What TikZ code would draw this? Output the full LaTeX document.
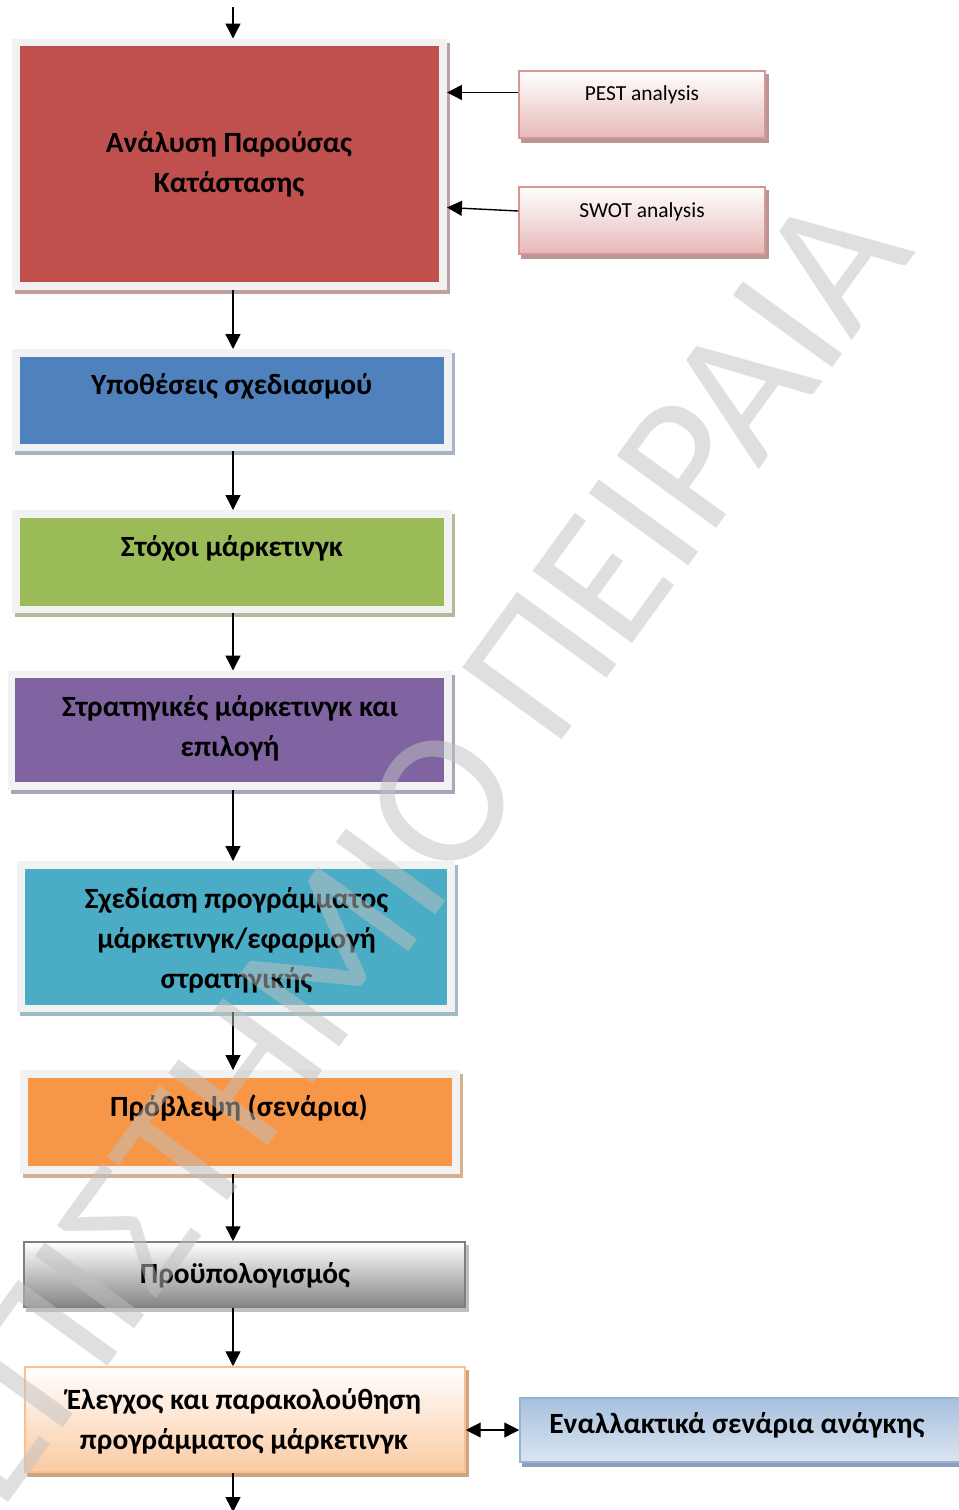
\documentclass[tikz,border=0pt]{standalone}
\usepackage{fontspec}
\setmainfont{Carlito}
\usetikzlibrary{arrows.meta,calc}

\definecolor{framegray}{HTML}{F2F2F2}
\definecolor{redfill}{HTML}{C0504D}
\definecolor{redsh}{HTML}{BEA0A0}
\definecolor{bluefill}{HTML}{4F81BD}
\definecolor{bluesh}{HTML}{A7B4C6}
\definecolor{greenfill}{HTML}{9BBB59}
\definecolor{greensh}{HTML}{B0BC9C}
\definecolor{purplefill}{HTML}{8064A2}
\definecolor{purplesh}{HTML}{ADA4BC}
\definecolor{tealfill}{HTML}{4BACC6}
\definecolor{tealsh}{HTML}{9EBCC4}
\definecolor{orangefill}{HTML}{F79646}
\definecolor{orangesh}{HTML}{D2B090}
\definecolor{pinkborder}{HTML}{D99694}
\definecolor{pinkmid}{HTML}{F2DCDB}
\definecolor{pinkbottom}{HTML}{E6B9B8}
\definecolor{pinksh}{HTML}{B89696}
\definecolor{grayborder}{HTML}{7F7F7F}
\definecolor{graymid}{HTML}{D0D0D0}
\definecolor{graybottom}{HTML}{858585}
\definecolor{graysh}{HTML}{BFBFBF}
\definecolor{peachborder}{HTML}{FAC090}
\definecolor{peachmid}{HTML}{FDE7D6}
\definecolor{peachbottom}{HTML}{FBCAA2}
\definecolor{peachsh}{HTML}{CDA582}
\definecolor{skytop}{HTML}{A7C0DE}
\definecolor{skybottom}{HTML}{DBE5F1}
\definecolor{skyborder}{HTML}{95B3D7}
\definecolor{skysh}{HTML}{8CA0B9}
\definecolor{watermark}{HTML}{C0C0C0}

\tikzset{
  sz/.style 2 args={minimum width={#1*0.02cm}, minimum height={#2*0.02cm}},
  framedbox/.style 2 args={rectangle, inner sep=0pt, draw=framegray,
    line width=4.54pt, fill=#1,
    preaction={draw=#2, fill=#2, transform canvas={shift={(3,4)}}}},
  gradbox/.style n args={5}{rectangle, inner sep=0pt, draw=#4, line width=0.9pt,
    top color=#1, middle color=#2, bottom color=#3,
    preaction={draw=#5, fill=#5, transform canvas={shift={(3,4)}}}},
  maintext/.style={font=\bfseries\fontsize{16.7}{22.7}\selectfont, align=center,
    inner sep=0pt, anchor=base},
  smalltext/.style={font=\fontsize{12.2}{14.6}\selectfont, inner sep=0pt, anchor=base},
  flow/.style={-{Triangle[length=8.5pt,width=8.5pt]}, line width=0.8pt},
  flowboth/.style={{Triangle[length=8.5pt,width=8.5pt]}-{Triangle[length=8.5pt,width=8.5pt]}, line width=0.8pt},
}

\begin{document}
\begin{tikzpicture}[x=0.02cm,y=-0.02cm]
\useasboundingbox (0,0) rectangle (959,1510);
\clip (0,0) rectangle (959,1510);

% main column of framed boxes
\node[framedbox={redfill}{redsh}, sz={427}{243.5}] (analysis) at (229.5,164.25) {};
\node[framedbox={bluefill}{bluesh}, sz={432}{94.5}] (assumptions) at (232,400.25) {};
\node[framedbox={greenfill}{greensh}, sz={432}{95.5}] (goals) at (232,561.75) {};
\node[framedbox={purplefill}{purplesh}, sz={436.5}{111.5}] (strategies) at (229.75,730.25) {};
\node[framedbox={tealfill}{tealsh}, sz={430}{143.5}] (planning) at (236,936.75) {};
\node[framedbox={orangefill}{orangesh}, sz={432}{95.5}] (forecast) at (240,1121.75) {};

% gradient boxes
\node[gradbox={white}{graymid}{graybottom}{grayborder}{graysh}, sz={441}{65}] (budget) at (244.5,1274.5) {};
\node[gradbox={white}{peachmid}{peachbottom}{peachborder}{peachsh}, sz={440}{105}] (control) at (245,1419.5) {};
\node[gradbox={skytop}{skytop!50!skybottom}{skybottom}{skyborder}{skysh}, sz={445}{64}] (alternatives) at (742.5,1430) {};
\node[gradbox={white}{pinkmid}{pinkbottom}{pinkborder}{pinksh}, sz={246}{67}] (pest) at (642,104.5) {};
\node[gradbox={white}{pinkmid}{pinkbottom}{pinkborder}{pinksh}, sz={246}{67}] (swot) at (642,220.5) {};

% box texts (base anchor sits on the last line)
\node[maintext] (analysistext) at (229,192.3) {Ανάλυση Παρούσας\\Κατάστασης};
\node[maintext] (assumptionstext) at (231.7,394) {Υποθέσεις σχεδιασμού};
\node[maintext] (goalstext) at (232,556.7) {Στόχοι μάρκετινγκ};
\node[maintext] (strategiestext) at (230,756.7) {Στρατηγικές μάρκετινγκ και\\επιλογή};
\node[maintext] (planningtext) at (236.5,988) {Σχεδίαση προγράμματος\\μάρκετινγκ/εφαρμογή\\στρατηγικής};
\node[maintext] (forecasttext) at (239,1116.7) {Πρόβλεψη (σενάρια)};
\node[maintext] (budgettext) at (245,1283) {Προϋπολογισμός};
\node[maintext] (controltext) at (244,1449) {Έλεγχος και παρακολούθηση\\προγράμματος μάρκετινγκ};
\node[maintext] (alternativestext) at (737,1433) {Εναλλακτικά σενάρια ανάγκης};
\node[smalltext] (pesttext) at (642,100.7) {PEST analysis};
\node[smalltext] (swottext) at (642,218) {SWOT analysis};

% connectors
\coordinate (spine) at (233,0);
\coordinate (entry) at (233,7);
\coordinate (exit) at (233,1512);
\draw[flow] (entry) -- (analysis.north -| spine);
\draw[flow] (analysis.south -| spine) -- (assumptions.north -| spine);
\draw[flow] (assumptions.south -| spine) -- (goals.north -| spine);
\draw[flow] (goals.south -| spine) -- (strategies.north -| spine);
\draw[flow] (strategies.south -| spine) -- (planning.north -| spine);
\draw[flow] (planning.south -| spine) -- (forecast.north -| spine);
\draw[flow] (forecast.south -| spine) -- (budget.north -| spine);
\draw[flow] (budget.south -| spine) -- (control.north -| spine);
\draw[flow] (control.south -| spine) -- (exit);
\draw[flow] ($(pest.west)+(0,-12)$) -- ($(pest.west -| analysis.east)+(0,-12)$);
\draw[flow] ($(swot.west)+(0,-9.5)$) -- ($(swot.west -| analysis.east)+(0,-13)$);
\draw[flowboth] (alternatives.west -| control.east) -- (alternatives.west);

% diagonal watermark
\node[font=\fontsize{109}{115}\selectfont, text=watermark, opacity=0.5,
  inner sep=0pt, rotate=54, anchor=base east] (stamp) at (917,252)
  {ΠΑΝΕΠΙΣΤΗΜΙΟ ΠΕΙΡΑΙΑ};
\end{tikzpicture}
\end{document}
